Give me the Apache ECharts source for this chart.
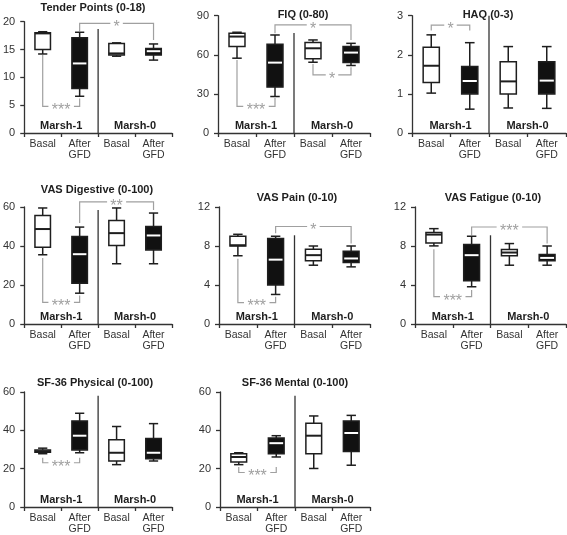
<!DOCTYPE html>
<html>
<head>
<meta charset="utf-8">
<script src="https://cdn.jsdelivr.net/npm/echarts@6/dist/echarts.min.js"></script>
<style>
html,body{margin:0;padding:0;background:#fff;}
#chart{width:567px;height:535px;}
</style>
</head>
<body>
<div id="chart"></div>
<script>
// ---------- data ----------
const categories = ['Basal', 'After\nGFD', 'Basal', 'After\nGFD'];
const groupLabels = ['Marsh-1', 'Marsh-0'];
const titles = ['Tender Points (0-18)', 'FIQ (0-80)', 'HAQ (0-3)', 'VAS Digestive (0-100)',
                'VAS Pain (0-10)', 'VAS Fatigue (0-10)', 'SF-36 Physical (0-100)', 'SF-36 Mental (0-100)'];
const yMax = [20, 90, 3, 60, 12, 12, 60, 60];
const yInterval = [5, 30, 1, 20, 4, 4, 20, 20];
const filledBox = [0, 1, 0, 1]; // After GFD boxes are black

// [min, q1, median, q3, max] for Basal M1, After M1, Basal M0, After M0
const tenderPoints = [[14.2, 15.0, 17.9, 18.0, 18.2], [6.6, 8.0, 12.5, 17.1, 18.1], [13.8, 14.0, 14.3, 16.1, 16.2], [13.1, 14.0, 14.7, 15.2, 16.0]];
const fiq          = [[57.4, 66.3, 74.0, 76.5, 77.3], [28.0, 35.2, 54.0, 68.0, 75.2], [54.3, 56.9, 65.0, 69.4, 71.4], [51.8, 54.0, 61.7, 66.3, 68.8]];
const haq          = [[1.02, 1.29, 1.72, 2.19, 2.51], [0.61, 1.0, 1.33, 1.70, 2.31], [0.64, 1.0, 1.32, 1.82, 2.21], [0.63, 1.0, 1.34, 1.82, 2.21]];
const vasDigestive = [[35.5, 39.3, 48.7, 55.7, 59.5], [15.8, 20.9, 35.8, 44.9, 49.7], [30.9, 40.3, 46.6, 53.1, 59.5], [30.9, 38.0, 45.4, 50.0, 56.9]];
const vasPain      = [[7.0, 8.0, 8.08, 9.0, 9.2], [3.03, 4.0, 6.6, 8.76, 9.0], [6.03, 6.48, 7.06, 7.67, 8.0], [5.86, 6.3, 6.72, 7.47, 8.0]];
const vasFatigue   = [[8.01, 8.32, 9.17, 9.38, 9.78], [3.82, 4.43, 7.06, 8.15, 9.0], [6.03, 6.99, 7.33, 7.64, 8.25], [6.03, 6.48, 6.78, 7.13, 8.0]];
const sf36Physical = [[27.8, 28.6, 29.1, 29.8, 30.7], [28.3, 29.8, 37.2, 44.9, 48.9], [22.1, 24.0, 28.3, 35.1, 42.0], [24.0, 25.2, 28.3, 35.8, 43.5]];
const sf36Mental   = [[22.1, 23.5, 26.1, 27.8, 28.3], [26.1, 27.8, 33.3, 36.0, 37.2], [20.1, 27.8, 37.2, 43.7, 47.5], [21.8, 29.0, 38.6, 44.9, 47.8]];
const panelData = [tenderPoints, fiq, haq, vasDigestive, vasPain, vasFatigue, sf36Physical, sf36Mental];

// significance brackets: [fromCategory, toCategory, level, fromEnd, toEnd, label]
const brTender   = [[0, 1, 4.8, 14.0, 6.2, '***'], [1, 3, 19.7, 18.3, 16.7, '*']];
const brFiq      = [[0, 1, 20.4, 56.0, 26.8, '***'], [1, 3, 82.9, 76.5, 71.4, '*'], [2, 3, 44.6, 53.0, 50.5, '*']];
const brHaq      = [[0, 1, 2.76, 2.62, 2.62, '*']];
const brDigest   = [[0, 1, 11.1, 33.8, 14.6, '***'], [1, 3, 62.6, 51.8, 58.5, '**']];
const brPain     = [[0, 1, 2.2, 6.7, 2.8, '***'], [1, 3, 10.0, 9.3, 8.25, '*']];
const brFatigue  = [[0, 1, 2.8, 7.67, 3.48, '***'], [1, 3, 9.95, 9.1, 8.25, '***']];
const brPhysical = [[0, 1, 23.1, 25.7, 25.7, '***']];
const brMental   = [[0, 1, 18.0, 20.9, 20.9, '***']];
const panelBrackets = [brTender, brFiq, brHaq, brDigest, brPain, brFatigue, brPhysical, brMental];

// vertical divider top value per panel
const dividerTop = [18.7, 76.7, 3, 58.5, 9.1, 9.1, 58, 58];

// ---------- layout (styles) ----------
const grids = [
  {left: 22,  top: 21.7, width: 150, height: 111.3},
  {left: 218, top: 15.7, width: 152, height: 117.3},
  {left: 412, top: 15.7, width: 154, height: 117.3},
  {left: 22,  top: 207,  width: 150, height: 117},
  {left: 219, top: 207,  width: 151, height: 117},
  {left: 415, top: 207,  width: 151, height: 117},
  {left: 22,  top: 392,  width: 150, height: 117},
  {left: 220, top: 392,  width: 150, height: 117}
];
const titlePos = [[93, 8], [303, 15], [488, 15], [97, 190], [297, 198], [493, 198], [95, 383], [295, 383]];

const FONT = '"Liberation Sans", Arial, Helvetica, sans-serif';
const INK = '#1e1e1e';
const GRAY = '#a0a0a0';

function renderBox(params, api) {
  const cat = api.value(0);
  const mn = api.value(1), q1 = api.value(2), md = api.value(3), q3 = api.value(4), mx = api.value(5);
  const filled = api.value(6);
  const band = api.size([1, 0])[0];
  const bw = band * 0.42, cw = band * 0.25;
  const x = api.coord([cat, 0])[0];
  const Y = v => api.coord([cat, v])[1];
  const ls = {stroke: INK, lineWidth: 1.5, fill: null};
  return {
    type: 'group',
    children: [
      {type: 'line', shape: {x1: x, y1: Y(mx), x2: x, y2: Y(q3)}, style: ls},
      {type: 'line', shape: {x1: x, y1: Y(q1), x2: x, y2: Y(mn)}, style: ls},
      {type: 'line', shape: {x1: x - cw / 2, y1: Y(mx), x2: x + cw / 2, y2: Y(mx)}, style: ls},
      {type: 'line', shape: {x1: x - cw / 2, y1: Y(mn), x2: x + cw / 2, y2: Y(mn)}, style: ls},
      {type: 'rect', shape: {x: x - bw / 2, y: Y(q3), width: bw, height: Y(q1) - Y(q3)},
        style: {stroke: INK, lineWidth: 1.5, fill: filled ? '#111' : '#fff'}},
      {type: 'line', shape: {x1: x - bw / 2 + (filled ? 1 : 0), y1: Y(md), x2: x + bw / 2 - (filled ? 1 : 0), y2: Y(md)},
        style: {stroke: filled ? '#fff' : INK, lineWidth: 2}}
    ]
  };
}

function makeBracketRenderer(list) {
  return function (params, api) {
    const b = list[params.dataIndex];
    const x1 = api.coord([b[0], 0])[0], x2 = api.coord([b[1], 0])[0];
    const yl = api.coord([b[0], b[2]])[1];
    const y1 = api.coord([b[0], b[3]])[1], y2 = api.coord([b[1], b[4]])[1];
    const xm = (x1 + x2) / 2;
    const gap = b[5].length * 6.5 + 6;
    const ls = {stroke: GRAY, lineWidth: 1.2, fill: null};
    return {
      type: 'group',
      children: [
        {type: 'polyline', shape: {points: [[x1, y1], [x1, yl], [xm - gap / 2, yl]]}, style: ls},
        {type: 'polyline', shape: {points: [[xm + gap / 2, yl], [x2, yl], [x2, y2]]}, style: ls},
        {type: 'text', x: xm, y: yl + 4.5, style: {text: b[5], fill: GRAY, font: '16px ' + FONT, align: 'center', verticalAlign: 'middle'}}
      ]
    };
  };
}

function renderDecor(params, api) {
  const top = api.value(0);
  const c = [0, 1, 2, 3].map(i => api.coord([i, 0])[0]);
  const y0 = api.coord([0, 0])[1];
  const yt = api.coord([0, top])[1];
  const xd = (c[1] + c[2]) / 2;
  return {
    type: 'group',
    children: [
      {type: 'line', shape: {x1: xd, y1: y0, x2: xd, y2: yt}, style: {stroke: '#333', lineWidth: 1.3}},
      {type: 'text', x: (c[0] + c[1]) / 2, y: y0 - 7, style: {text: groupLabels[0], fill: INK, font: 'bold 11px ' + FONT, align: 'center', verticalAlign: 'middle'}},
      {type: 'text', x: (c[2] + c[3]) / 2, y: y0 - 7, style: {text: groupLabels[1], fill: INK, font: 'bold 11px ' + FONT, align: 'center', verticalAlign: 'middle'}}
    ]
  };
}

const option = {
  backgroundColor: '#fff',
  animation: false,
  grid: grids.map(g => Object.assign({containLabel: false}, g)),
  xAxis: grids.map((g, i) => ({
    gridIndex: i, type: 'category', data: categories, boundaryGap: true,
    axisLine: {lineStyle: {color: '#333', width: 1.3}},
    axisTick: {show: true, length: 4, alignWithLabel: false, lineStyle: {color: '#333', width: 1.3}},
    axisLabel: {color: '#333', fontSize: 10.5, lineHeight: 11, margin: 6, fontFamily: FONT, interval: 0}
  })),
  yAxis: grids.map((g, i) => ({
    gridIndex: i, type: 'value', min: 0, max: yMax[i], interval: yInterval[i],
    axisLine: {show: true, lineStyle: {color: '#333', width: 1.3}},
    axisTick: {show: true, length: 4, lineStyle: {color: '#333', width: 1.3}},
    splitLine: {show: false},
    axisLabel: {color: '#333', fontSize: 11, margin: 9, fontFamily: FONT}
  })),
  graphic: titles.map((t, i) => ({
    type: 'text', x: titlePos[i][0], y: titlePos[i][1],
    style: {text: t, fill: INK, font: 'bold 11px ' + FONT, align: 'center', verticalAlign: 'middle'}
  })),
  series: []
};

panelData.forEach((boxes, i) => {
  option.series.push({
    type: 'custom', xAxisIndex: i, yAxisIndex: i, clip: false,
    renderItem: renderBox,
    encode: {x: 0, y: [1, 2, 3, 4, 5]},
    data: boxes.map((b, k) => [k].concat(b).concat([filledBox[k]]))
  });
  option.series.push({
    type: 'custom', xAxisIndex: i, yAxisIndex: i, clip: false, z: 1,
    renderItem: makeBracketRenderer(panelBrackets[i]),
    data: panelBrackets[i].map(b => [b[0], b[1], b[2], b[3], b[4]])
  });
  option.series.push({
    type: 'custom', xAxisIndex: i, yAxisIndex: i, clip: false,
    renderItem: renderDecor,
    encode: {x: -1, y: 0},
    data: [[dividerTop[i]]]
  });
});

const chart = echarts.init(document.getElementById('chart'), null, {renderer: 'canvas'});
chart.setOption(option);
</script>
</body>
</html>
